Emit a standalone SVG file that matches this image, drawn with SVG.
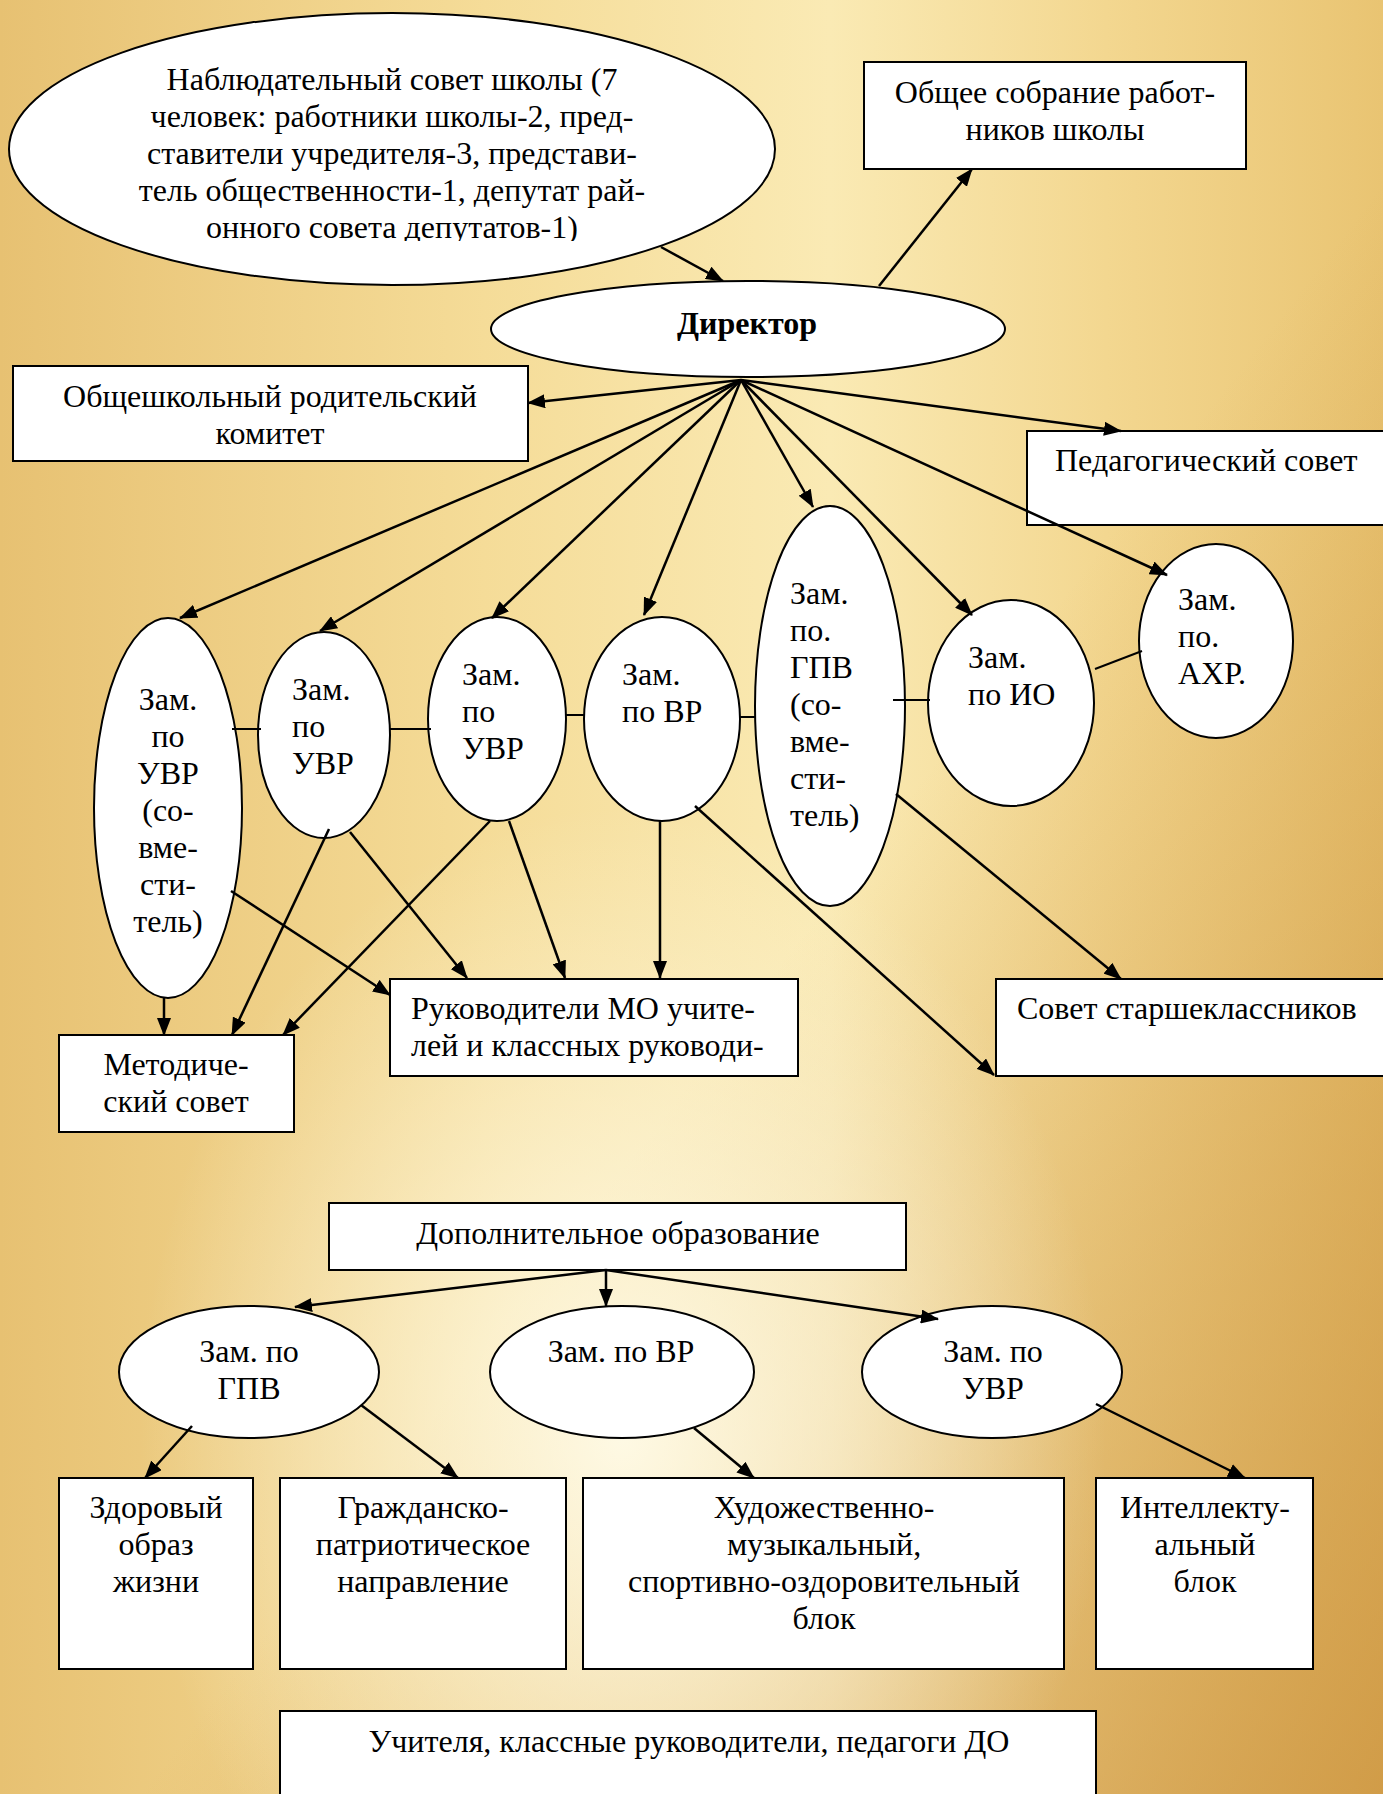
<svg xmlns="http://www.w3.org/2000/svg" width="1383" height="1794" viewBox="0 0 1383 1794">
<defs>
<linearGradient id="bgH" x1="0" y1="0" x2="1" y2="0">
<stop offset="0" stop-color="#e7c172"/>
<stop offset="0.35" stop-color="#f5dc98"/>
<stop offset="0.6" stop-color="#faeab4"/>
<stop offset="0.8" stop-color="#f3d790"/>
<stop offset="1" stop-color="#e9c472"/>
</linearGradient>
<radialGradient id="glow" cx="0.45" cy="0.8" r="0.35">
<stop offset="0" stop-color="#fffbe8" stop-opacity="0.95"/>
<stop offset="1" stop-color="#fffbe8" stop-opacity="0"/>
</radialGradient>
<linearGradient id="dark" x1="0" y1="0" x2="1" y2="1">
<stop offset="0.55" stop-color="#c98f3a" stop-opacity="0"/>
<stop offset="1" stop-color="#c98f3a" stop-opacity="0.75"/>
</linearGradient>
<marker id="ah" markerUnits="userSpaceOnUse" markerWidth="18" markerHeight="14" refX="17" refY="7" orient="auto">
<path d="M0,0 L18,7 L0,14 Z" fill="#000"/>
</marker>
<clipPath id="clipTop"><rect x="0" y="0" width="1383" height="241"/></clipPath>
<style>
.t{font-family:"Liberation Serif","Times New Roman",serif;font-size:32px;fill:#000}
.c{text-anchor:middle}
.b{font-weight:bold}
.n{fill:#fff;stroke:#000;stroke-width:2}
.e{stroke:#000;stroke-width:2.5;fill:none;marker-end:url(#ah)}
.l{stroke:#000;stroke-width:2;fill:none}
</style>
</defs>
<rect x="0" y="0" width="1383" height="1794" fill="url(#bgH)"/>
<rect x="0" y="0" width="1383" height="1794" fill="url(#dark)"/>
<rect x="0" y="0" width="1383" height="1794" fill="url(#glow)"/>

<g id="n-nabl">
<ellipse class="n" cx="392" cy="149" rx="383" ry="136"/>
<g clip-path="url(#clipTop)">
<text class="t c" x="392" y="90">Наблюдательный совет школы (7</text>
<text class="t c" x="392" y="127">человек: работники школы-2, пред-</text>
<text class="t c" x="392" y="164">ставители учредителя-3, представи-</text>
<text class="t c" x="392" y="201">тель общественности-1, депутат рай-</text>
<text class="t c" x="392" y="238">онного совета депутатов-1)</text>
</g>
</g>
<g id="n-dir">
<ellipse class="n" cx="748" cy="329" rx="257" ry="48"/>
<text class="t c b" x="747" y="334">Директор</text>
</g>
<g id="n-sobr">
<rect class="n" x="864" y="62" width="382" height="107"/>
<text class="t c" x="1055" y="103">Общее собрание работ-</text>
<text class="t c" x="1055" y="140">ников школы</text>
</g>
<g id="n-rod">
<rect class="n" x="13" y="366" width="515" height="95"/>
<text class="t c" x="270" y="407">Общешкольный родительский</text>
<text class="t c" x="270" y="444">комитет</text>
</g>
<g id="n-ped">
<rect class="n" x="1027" y="431" width="370" height="94"/>
<text class="t" x="1055" y="471">Педагогический совет</text>
</g>
<g id="n-z1">
<ellipse class="n" cx="168" cy="808" rx="74" ry="190"/>
<text class="t c" x="168" y="710">Зам.</text>
<text class="t c" x="168" y="747">по</text>
<text class="t c" x="168" y="784">УВР</text>
<text class="t c" x="168" y="821">(со-</text>
<text class="t c" x="168" y="858">вме-</text>
<text class="t c" x="168" y="895">сти-</text>
<text class="t c" x="168" y="932">тель)</text>
</g>
<g id="n-z2">
<ellipse class="n" cx="324" cy="735" rx="66" ry="103"/>
<text class="t" x="292" y="700">Зам.</text>
<text class="t" x="292" y="737">по</text>
<text class="t" x="292" y="774">УВР</text>
</g>
<g id="n-z3">
<ellipse class="n" cx="497" cy="719" rx="69" ry="102"/>
<text class="t" x="462" y="685">Зам.</text>
<text class="t" x="462" y="722">по</text>
<text class="t" x="462" y="759">УВР</text>
</g>
<g id="n-z4">
<ellipse class="n" cx="662" cy="719" rx="78" ry="102"/>
<text class="t" x="622" y="685">Зам.</text>
<text class="t" x="622" y="722">по ВР</text>
</g>
<g id="n-z5">
<ellipse class="n" cx="830" cy="706" rx="75" ry="200"/>
<text class="t" x="790" y="604">Зам.</text>
<text class="t" x="790" y="641">по.</text>
<text class="t" x="790" y="678">ГПВ</text>
<text class="t" x="790" y="715">(со-</text>
<text class="t" x="790" y="752">вме-</text>
<text class="t" x="790" y="789">сти-</text>
<text class="t" x="790" y="826">тель)</text>
</g>
<g id="n-z6">
<ellipse class="n" cx="1011" cy="703" rx="83" ry="103"/>
<text class="t" x="968" y="668">Зам.</text>
<text class="t" x="968" y="705">по ИО</text>
</g>
<g id="n-z7">
<ellipse class="n" cx="1216" cy="641" rx="77" ry="97"/>
<text class="t" x="1178" y="610">Зам.</text>
<text class="t" x="1178" y="647">по.</text>
<text class="t" x="1178" y="684">АХР.</text>
</g>
<g id="n-met">
<rect class="n" x="59" y="1035" width="235" height="97"/>
<text class="t c" x="176" y="1075">Методиче-</text>
<text class="t c" x="176" y="1112">ский совет</text>
</g>
<g id="n-ruk">
<rect class="n" x="390" y="979" width="408" height="97"/>
<text class="t" x="411" y="1019">Руководители МО учите-</text>
<text class="t" x="411" y="1056">лей и классных руководи-</text>
</g>
<g id="n-star">
<rect class="n" x="996" y="979" width="400" height="97"/>
<text class="t" x="1017" y="1019">Совет старшеклассников</text>
</g>
<g id="n-dop">
<rect class="n" x="329" y="1203" width="577" height="67"/>
<text class="t c" x="618" y="1244">Дополнительное образование</text>
</g>
<g id="n-b1">
<ellipse class="n" cx="249" cy="1372" rx="130" ry="66"/>
<text class="t c" x="249" y="1362">Зам. по</text>
<text class="t c" x="249" y="1399">ГПВ</text>
</g>
<g id="n-b2">
<ellipse class="n" cx="622" cy="1372" rx="132" ry="66"/>
<text class="t c" x="621" y="1362">Зам. по ВР</text>
</g>
<g id="n-b3">
<ellipse class="n" cx="992" cy="1372" rx="130" ry="66"/>
<text class="t c" x="993" y="1362">Зам. по</text>
<text class="t c" x="993" y="1399">УВР</text>
</g>
<g id="n-zdor">
<rect class="n" x="59" y="1478" width="194" height="191"/>
<text class="t c" x="156" y="1518">Здоровый</text>
<text class="t c" x="156" y="1555">образ</text>
<text class="t c" x="156" y="1592">жизни</text>
</g>
<g id="n-grazh">
<rect class="n" x="280" y="1478" width="286" height="191"/>
<text class="t c" x="423" y="1518">Гражданско-</text>
<text class="t c" x="423" y="1555">патриотическое</text>
<text class="t c" x="423" y="1592">направление</text>
</g>
<g id="n-hud">
<rect class="n" x="583" y="1478" width="481" height="191"/>
<text class="t c" x="824" y="1518">Художественно-</text>
<text class="t c" x="824" y="1555">музыкальный,</text>
<text class="t c" x="824" y="1592">спортивно-оздоровительный</text>
<text class="t c" x="824" y="1629">блок</text>
</g>
<g id="n-int">
<rect class="n" x="1096" y="1478" width="217" height="191"/>
<text class="t c" x="1205" y="1518">Интеллекту-</text>
<text class="t c" x="1205" y="1555">альный</text>
<text class="t c" x="1205" y="1592">блок</text>
</g>
<g id="n-uch">
<rect class="n" x="280" y="1711" width="816" height="100"/>
<text class="t c" x="689" y="1752">Учителя, классные руководители, педагоги ДО</text>
</g>

<g id="connectors">
<line class="e" x1="661" y1="247" x2="723" y2="281"/>
<line class="e" x1="879" y1="286" x2="972" y2="169"/>
<line class="e" x1="741" y1="380" x2="528" y2="403"/>
<line class="e" x1="741" y1="380" x2="1121" y2="431"/>
<line class="e" x1="741" y1="380" x2="180" y2="618"/>
<line class="e" x1="741" y1="380" x2="320" y2="631"/>
<line class="e" x1="741" y1="380" x2="492" y2="618"/>
<line class="e" x1="741" y1="380" x2="644" y2="615"/>
<line class="e" x1="741" y1="380" x2="813" y2="507"/>
<line class="e" x1="741" y1="380" x2="972" y2="615"/>
<line class="e" x1="741" y1="380" x2="1167" y2="575"/>
<line class="l" x1="232" y1="729" x2="261" y2="729"/>
<line class="l" x1="389" y1="729" x2="431" y2="729"/>
<line class="l" x1="565" y1="715" x2="585" y2="715"/>
<line class="l" x1="740" y1="717" x2="756" y2="717"/>
<line class="l" x1="893" y1="700" x2="930" y2="700"/>
<line class="l" x1="1095" y1="669" x2="1142" y2="651"/>
<line class="e" x1="164" y1="998" x2="164" y2="1035"/>
<line class="e" x1="329" y1="829" x2="232" y2="1035"/>
<line class="e" x1="490" y1="821" x2="283" y2="1035"/>
<line class="e" x1="231" y1="891" x2="390" y2="995"/>
<line class="e" x1="350" y1="832" x2="467" y2="978"/>
<line class="e" x1="509" y1="821" x2="565" y2="978"/>
<line class="e" x1="660" y1="821" x2="660" y2="978"/>
<line class="e" x1="695" y1="806" x2="994" y2="1075"/>
<line class="e" x1="896" y1="794" x2="1121" y2="979"/>
<line class="e" x1="606" y1="1270" x2="295" y2="1307"/>
<line class="e" x1="606" y1="1270" x2="606" y2="1306"/>
<line class="e" x1="606" y1="1270" x2="938" y2="1319"/>
<line class="e" x1="192" y1="1426" x2="145" y2="1478"/>
<line class="e" x1="361" y1="1405" x2="458" y2="1478"/>
<line class="e" x1="694" y1="1428" x2="754" y2="1478"/>
<line class="e" x1="1096" y1="1404" x2="1245" y2="1478"/>
</g>
</svg>
